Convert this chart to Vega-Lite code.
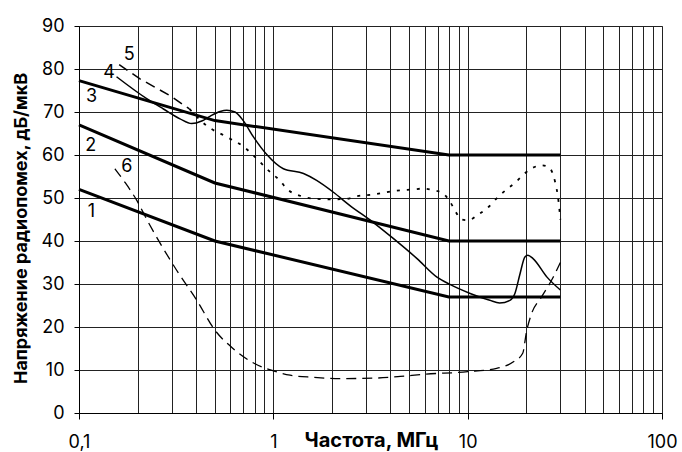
{
  "$schema": "https://vega.github.io/schema/vega-lite/v6.json",
  "width": 583,
  "height": 387,
  "autosize": {"type": "none"},
  "padding": {"left": 79, "top": 26, "right": 20, "bottom": 39},
  "background": "white",
  "config": {
    "view": {"stroke": "#888", "strokeWidth": 1},
    "font": "Inter",
    "axis": {"labelFont": "Inter", "titleFont": "Inter"}
  },
  "datasets": {
    "lines": [
      {"series": "1", "f": 0.1, "v": 52}, {"series": "1", "f": 0.5, "v": 40}, {"series": "1", "f": 8, "v": 27}, {"series": "1", "f": 30, "v": 27},
      {"series": "2", "f": 0.1, "v": 67}, {"series": "2", "f": 0.5, "v": 53.5}, {"series": "2", "f": 8, "v": 40}, {"series": "2", "f": 30, "v": 40},
      {"series": "3", "f": 0.1, "v": 77.3}, {"series": "3", "f": 0.5, "v": 68}, {"series": "3", "f": 8, "v": 60}, {"series": "3", "f": 30, "v": 60},
      {"series": "4", "f": 0.156, "v": 78.2}, {"series": "4", "f": 0.223, "v": 73.1}, {"series": "4", "f": 0.272, "v": 70.7},
      {"series": "4", "f": 0.331, "v": 68.4}, {"series": "4", "f": 0.38, "v": 67.3}, {"series": "4", "f": 0.428, "v": 67.9},
      {"series": "4", "f": 0.472, "v": 69.0}, {"series": "4", "f": 0.532, "v": 70.1}, {"series": "4", "f": 0.576, "v": 70.4},
      {"series": "4", "f": 0.635, "v": 70.0}, {"series": "4", "f": 0.7, "v": 68.0}, {"series": "4", "f": 0.79, "v": 64.2},
      {"series": "4", "f": 0.925, "v": 60.1}, {"series": "4", "f": 1.126, "v": 56.8}, {"series": "4", "f": 1.43, "v": 55.7},
      {"series": "4", "f": 1.67, "v": 54.1}, {"series": "4", "f": 2.03, "v": 51.4}, {"series": "4", "f": 2.47, "v": 48.3},
      {"series": "4", "f": 3.25, "v": 44.4}, {"series": "4", "f": 4.14, "v": 40.6}, {"series": "4", "f": 5.49, "v": 35.9},
      {"series": "4", "f": 6.95, "v": 31.6}, {"series": "4", "f": 8.1, "v": 29.9}, {"series": "4", "f": 10.3, "v": 27.8},
      {"series": "4", "f": 13.0, "v": 26.2}, {"series": "4", "f": 14.6, "v": 25.6}, {"series": "4", "f": 16.5, "v": 26.2},
      {"series": "4", "f": 17.5, "v": 27.8}, {"series": "4", "f": 18.6, "v": 32.4}, {"series": "4", "f": 19.7, "v": 36.3},
      {"series": "4", "f": 20.4, "v": 36.7}, {"series": "4", "f": 21.7, "v": 35.9}, {"series": "4", "f": 25.6, "v": 31.6},
      {"series": "4", "f": 30, "v": 28.6},
      {"series": "5a", "f": 0.161, "v": 81.0}, {"series": "5a", "f": 0.206, "v": 77.7}, {"series": "5a", "f": 0.294, "v": 73.8}, {"series": "5a", "f": 0.37, "v": 70.7},
      {"series": "5b", "f": 0.37, "v": 70.7}, {"series": "5b", "f": 0.454, "v": 66.8}, {"series": "5b", "f": 0.576, "v": 64.2},
      {"series": "5b", "f": 0.7, "v": 62.0}, {"series": "5b", "f": 0.774, "v": 60.3}, {"series": "5b", "f": 0.84, "v": 58.7},
      {"series": "5b", "f": 0.98, "v": 55.7}, {"series": "5b", "f": 1.08, "v": 54.1}, {"series": "5b", "f": 1.17, "v": 52.2},
      {"series": "5b", "f": 1.4, "v": 50.4}, {"series": "5b", "f": 1.67, "v": 49.8}, {"series": "5b", "f": 2.03, "v": 49.7},
      {"series": "5b", "f": 2.38, "v": 49.8}, {"series": "5b", "f": 2.68, "v": 50.4}, {"series": "5b", "f": 3.25, "v": 50.8},
      {"series": "5b", "f": 4.14, "v": 51.6}, {"series": "5b", "f": 5.27, "v": 52.0}, {"series": "5b", "f": 5.94, "v": 52.2},
      {"series": "5b", "f": 6.55, "v": 51.9}, {"series": "5b", "f": 7.38, "v": 51.2}, {"series": "5b", "f": 8.1, "v": 49.2},
      {"series": "5b", "f": 8.6, "v": 47.1}, {"series": "5b", "f": 9.3, "v": 45.0}, {"series": "5b", "f": 10.05, "v": 44.8},
      {"series": "5b", "f": 11.3, "v": 46.1}, {"series": "5b", "f": 12.5, "v": 47.5}, {"series": "5b", "f": 14.6, "v": 50.6},
      {"series": "5b", "f": 16.2, "v": 52.3}, {"series": "5b", "f": 17.9, "v": 53.9}, {"series": "5b", "f": 19.3, "v": 55.4},
      {"series": "5b", "f": 21.2, "v": 56.8}, {"series": "5b", "f": 24, "v": 57.6}, {"series": "5b", "f": 26, "v": 57.2},
      {"series": "5b", "f": 27.1, "v": 56.2}, {"series": "5b", "f": 28.2, "v": 53.7}, {"series": "5b", "f": 29.3, "v": 49.5},
      {"series": "5b", "f": 30, "v": 45.0},
      {"series": "6", "f": 0.153, "v": 56.8}, {"series": "6", "f": 0.172, "v": 53.7}, {"series": "6", "f": 0.198, "v": 49.5},
      {"series": "6", "f": 0.227, "v": 44.4}, {"series": "6", "f": 0.318, "v": 33.2}, {"series": "6", "f": 0.404, "v": 26.2},
      {"series": "6", "f": 0.5, "v": 19.3}, {"series": "6", "f": 0.62, "v": 15.0}, {"series": "6", "f": 0.8, "v": 11.5},
      {"series": "6", "f": 1.0, "v": 9.8}, {"series": "6", "f": 1.22, "v": 8.8}, {"series": "6", "f": 1.6, "v": 8.3},
      {"series": "6", "f": 2.2, "v": 8.0}, {"series": "6", "f": 3.27, "v": 8.1}, {"series": "6", "f": 4.5, "v": 8.5},
      {"series": "6", "f": 5.9, "v": 9.0}, {"series": "6", "f": 10, "v": 9.6}, {"series": "6", "f": 14.1, "v": 10.4},
      {"series": "6", "f": 17.2, "v": 11.9}, {"series": "6", "f": 19.2, "v": 13.9}, {"series": "6", "f": 20.1, "v": 19.0},
      {"series": "6", "f": 21.2, "v": 22.8}, {"series": "6", "f": 24, "v": 27.0}, {"series": "6", "f": 27.5, "v": 31.5},
      {"series": "6", "f": 30, "v": 35.0}
    ],
    "labels": [
      {"label": "1", "f": 0.116, "v": 46.7},
      {"label": "2", "f": 0.115, "v": 62.2},
      {"label": "3", "f": 0.116, "v": 73.4},
      {"label": "4", "f": 0.143, "v": 79.1},
      {"label": "5", "f": 0.1815, "v": 83.35},
      {"label": "6", "f": 0.176, "v": 57.2}
    ]
  },
  "encoding": {
    "x": {
      "field": "f",
      "type": "quantitative",
      "scale": {"type": "log", "domain": [0.1, 100], "nice": false},
      "axis": {
        "values": [0.1, 0.2, 0.3, 0.4, 0.5, 0.6, 0.7, 0.8, 0.9, 1, 2, 3, 4, 5, 6, 7, 8, 9, 10, 20, 30, 40, 50, 60, 70, 80, 90, 100],
        "title": "Частота, МГц",
        "titleFontSize": 20,
        "titleFontWeight": "bold",
        "titleColor": "#000",
        "titleX": 292,
        "titleY": 33,
        "titleAlign": "center",
        "titleBaseline": "alphabetic",
        "labelExpr": "datum.value === 0.1 ? '0,1' : datum.value === 1 ? '1' : datum.value === 10 ? '10' : datum.value === 100 ? '100' : ''",
        "labelFontSize": 18,
        "labelColor": "#000",
        "labelPadding": 14,
        "labelFlush": false,
        "labelOverlap": false,
        "labelBound": false,
        "tickSize": 6,
        "tickColor": "#000",
        "tickOpacity": {"condition": {"test": "datum.value === 0.1 || datum.value === 1 || datum.value === 10 || datum.value === 100", "value": 1}, "value": 0},
        "domainColor": "#000",
        "grid": true,
        "gridColor": "#222",
        "gridWidth": 1
      }
    },
    "y": {
      "field": "v",
      "type": "quantitative",
      "scale": {"domain": [0, 90], "nice": false, "zero": false},
      "axis": {
        "values": [0, 10, 20, 30, 40, 50, 60, 70, 80, 90],
        "title": "Напряжение радиопомех, дБ/мкВ",
        "titleFontSize": 18,
        "titleFontWeight": "bold",
        "titleColor": "#000",
        "titleAngle": -90,
        "titleX": -58,
        "titleY": 202,
        "titleAlign": "center",
        "titleBaseline": "middle",
        "labelFontSize": 18,
        "labelColor": "#000",
        "labelPadding": 10,
        "tickSize": 5,
        "tickColor": "#000",
        "domainColor": "#000",
        "grid": true,
        "gridColor": "#222",
        "gridWidth": 1
      }
    }
  },
  "layer": [
    {
      "data": {"name": "lines"},
      "transform": [{"filter": "datum.series === '1' || datum.series === '2' || datum.series === '3'"}],
      "mark": {"type": "line", "color": "#000", "strokeWidth": 3},
      "encoding": {"detail": {"field": "series", "type": "nominal"}}
    },
    {
      "data": {"name": "lines"},
      "transform": [{"filter": "datum.series === '4'"}],
      "mark": {"type": "line", "color": "#000", "strokeWidth": 1.5, "interpolate": "monotone"},
      "encoding": {}
    },
    {
      "data": {"name": "lines"},
      "transform": [{"filter": "datum.series === '5a'"}],
      "mark": {"type": "line", "color": "#000", "strokeWidth": 1.5, "strokeDash": [10, 6]},
      "encoding": {}
    },
    {
      "data": {"name": "lines"},
      "transform": [{"filter": "datum.series === '5b'"}],
      "mark": {"type": "line", "color": "#000", "strokeWidth": 1.8, "strokeDash": [3, 7], "interpolate": "monotone"},
      "encoding": {}
    },
    {
      "data": {"name": "lines"},
      "transform": [{"filter": "datum.series === '6'"}],
      "mark": {"type": "line", "color": "#000", "strokeWidth": 1.3, "strokeDash": [10, 6], "interpolate": "monotone"},
      "encoding": {}
    },
    {
      "data": {"name": "labels"},
      "mark": {"type": "text", "fontSize": 18, "color": "#000", "align": "center", "baseline": "middle"},
      "encoding": {"text": {"field": "label", "type": "nominal"}}
    }
  ]
}
